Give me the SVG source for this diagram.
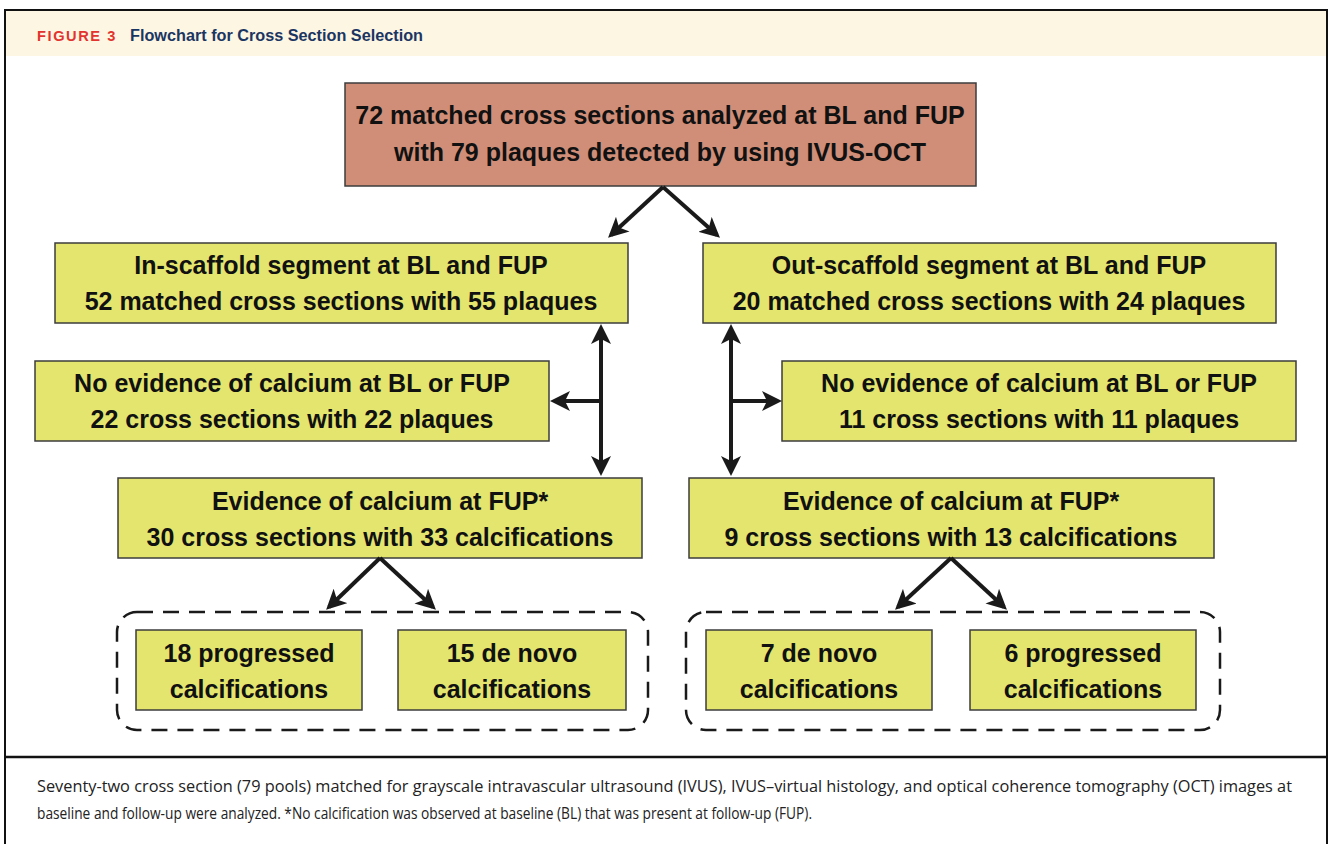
<svg xmlns="http://www.w3.org/2000/svg" width="1330" height="844" viewBox="0 0 1330 844">
<style>
.box{fill:#e3e56e;stroke:#3c3c3c;stroke-width:1.5}
.top{fill:#d08e78;stroke:#3c3c3c;stroke-width:1.5}
.t{font-family:"Liberation Sans",Arial,sans-serif;font-weight:bold;font-size:25px;fill:#111;text-anchor:middle}
.c{stroke:#1a1a1a;stroke-width:4;fill:none}
.dash{fill:none;stroke:#1a1a1a;stroke-width:2.5;stroke-dasharray:16 10}
.cap{font-family:"Open Sans","Noto Sans",sans-serif;font-size:15.5px;fill:#222}
</style>
<defs>
<marker id="ah" viewBox="0 0 20 20" refX="16" refY="10" markerWidth="20" markerHeight="20" markerUnits="userSpaceOnUse" orient="auto-start-reverse">
<path d="M20,10 L0,0 L5,10 L0,20 Z" fill="#1a1a1a"/>
</marker>
</defs>
<rect x="0" y="0" width="1330" height="844" fill="#fff"/>
<g id="frame">
<rect x="6" y="11" width="1320" height="45" fill="#fdf6e3"/>
<rect x="5" y="10" width="1322" height="850" fill="none" stroke="#111" stroke-width="2"/>
<line x1="5" y1="757" x2="1327" y2="757" stroke="#111" stroke-width="2.5"/>
<text x="37" y="41" font-family="'Liberation Sans',Arial,sans-serif" font-weight="bold" font-size="14" letter-spacing="1.5" fill="#e2332f" textLength="80" lengthAdjust="spacingAndGlyphs">FIGURE 3</text>
<text x="130" y="41" font-family="'Liberation Sans',Arial,sans-serif" font-weight="bold" font-size="16" fill="#1b3562" textLength="293" lengthAdjust="spacingAndGlyphs">Flowchart for Cross Section Selection</text>
</g>
<g id="n-top">
<rect class="top" x="345" y="83" width="631" height="103"/>
<text class="t" x="660" y="124">72 matched cross sections analyzed at BL and FUP</text>
<text class="t" x="660" y="161">with 79 plaques detected by using IVUS-OCT</text>
</g>
<g id="n-in">
<rect class="box" x="55" y="243" width="573" height="80"/>
<text class="t" x="341" y="274">In-scaffold segment at BL and FUP</text>
<text class="t" x="341" y="310">52 matched cross sections with 55 plaques</text>
</g>
<g id="n-out">
<rect class="box" x="703" y="243" width="573" height="80"/>
<text class="t" x="989" y="274">Out-scaffold segment at BL and FUP</text>
<text class="t" x="989" y="310">20 matched cross sections with 24 plaques</text>
</g>
<g id="n-noev-l">
<rect class="box" x="35" y="361" width="514" height="80"/>
<text class="t" x="292" y="392">No evidence of calcium at BL or FUP</text>
<text class="t" x="292" y="428">22 cross sections with 22 plaques</text>
</g>
<g id="n-noev-r">
<rect class="box" x="782" y="361" width="514" height="80"/>
<text class="t" x="1039" y="392">No evidence of calcium at BL or FUP</text>
<text class="t" x="1039" y="428">11 cross sections with 11 plaques</text>
</g>
<g id="n-ev-l">
<rect class="box" x="118" y="478" width="524" height="80"/>
<text class="t" x="380" y="510">Evidence of calcium at FUP*</text>
<text class="t" x="380" y="546">30 cross sections with 33 calcifications</text>
</g>
<g id="n-ev-r">
<rect class="box" x="689" y="478" width="525" height="80"/>
<text class="t" x="951" y="510">Evidence of calcium at FUP*</text>
<text class="t" x="951" y="546">9 cross sections with 13 calcifications</text>
</g>
<g id="grp-l">
<rect class="dash" x="117" y="612" width="531" height="118" rx="20"/>
</g>
<g id="n-prog-l">
<rect class="box" x="136" y="630" width="226" height="80"/>
<text class="t" x="249" y="662">18 progressed</text>
<text class="t" x="249" y="698">calcifications</text>
</g>
<g id="n-novo-l">
<rect class="box" x="398" y="630" width="228" height="80"/>
<text class="t" x="512" y="662">15 de novo</text>
<text class="t" x="512" y="698">calcifications</text>
</g>
<g id="grp-r">
<rect class="dash" x="686" y="612" width="534" height="118" rx="20"/>
</g>
<g id="n-novo-r">
<rect class="box" x="706" y="630" width="226" height="80"/>
<text class="t" x="819" y="662">7 de novo</text>
<text class="t" x="819" y="698">calcifications</text>
</g>
<g id="n-prog-r">
<rect class="box" x="970" y="630" width="226" height="80"/>
<text class="t" x="1083" y="662">6 progressed</text>
<text class="t" x="1083" y="698">calcifications</text>
</g>
<g id="connectors">
<line class="c" x1="663" y1="187" x2="611" y2="235" marker-end="url(#ah)"/>
<line class="c" x1="663" y1="187" x2="717" y2="235" marker-end="url(#ah)"/>
<line class="c" x1="601" y1="328" x2="601" y2="472" marker-start="url(#ah)" marker-end="url(#ah)"/>
<line class="c" x1="601" y1="401" x2="554" y2="401" marker-end="url(#ah)"/>
<line class="c" x1="731" y1="328" x2="731" y2="472" marker-start="url(#ah)" marker-end="url(#ah)"/>
<line class="c" x1="731" y1="401" x2="778" y2="401" marker-end="url(#ah)"/>
<line class="c" x1="380" y1="558" x2="329" y2="607" marker-end="url(#ah)"/>
<line class="c" x1="380" y1="558" x2="433" y2="607" marker-end="url(#ah)"/>
<line class="c" x1="951" y1="558" x2="898" y2="607" marker-end="url(#ah)"/>
<line class="c" x1="951" y1="558" x2="1004" y2="607" marker-end="url(#ah)"/>
</g>
<g id="caption">
<text class="cap" x="37" y="792" textLength="1255" lengthAdjust="spacingAndGlyphs">Seventy-two cross section (79 pools) matched for grayscale intravascular ultrasound (IVUS), IVUS–virtual histology, and optical coherence tomography (OCT) images at</text>
<text class="cap" x="37" y="819" textLength="775" lengthAdjust="spacingAndGlyphs">baseline and follow-up were analyzed. *No calcification was observed at baseline (BL) that was present at follow-up (FUP).</text>
</g>
</svg>
